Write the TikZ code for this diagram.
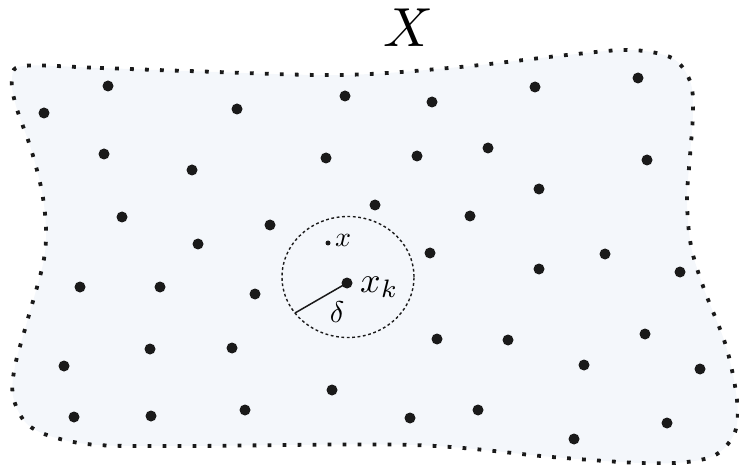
\documentclass[tikz,border=0pt]{standalone}
\usepackage{graphicx}
\usetikzlibrary{shapes.geometric}
\definecolor{regionfill}{HTML}{F4F7FB}
\definecolor{dotcol}{HTML}{1A1A1A}
\tikzset{
  pt/.style={circle,fill=dotcol,inner sep=0pt,minimum size=11pt},
  smallpt/.style={circle,fill=dotcol,inner sep=0pt,minimum size=5pt},
  border/.style={line width=3.8pt,dash pattern=on 3.8pt off 11.2pt,draw=dotcol,fill=regionfill},
  ball/.style={line width=1.4pt,dash pattern=on 2.8pt off 2.6pt,draw=dotcol}
}
\begin{document}
\begin{tikzpicture}[x=1pt,y=-1pt]
\useasboundingbox (0,0) rectangle (739,465);
\draw[border] plot[smooth cycle,tension=0.55] coordinates {
 (23,66) (100,68) (188,71) (340,75) (460,67) (567,55) (630,50) (672,58)
 (690,81) (693,111) (690,156) (687,200) (691,246) (704,289) (726,346)
 (737,400) (735,432) (717,454) (687,462) (640,463) (552,457) (413,445)
 (188,446) (98,445) (53,437) (26,423) (13,396) (15,366) (27,322)
 (43,264) (46,230) (42,192) (31,149) (16,106) (12,80)};
\node[inner sep=0] (Xlab) at (408,28) {\scalebox{5.5}{$X$}};
% sample points
\foreach \n/\x/\y in {
 a1/44/113, a2/108/86, a3/237/109, a4/345/96, a5/432/102, a6/535/87, a7/638/78,
 b1/104/154, b2/192/170, b3/326/158, b4/417/156, b5/488/148, b6/647/160,
 c1/122/217, c2/198/244, c3/270/225, c4/375/205, c5/470/216, c6/539/189,
 d1/80/287, d2/160/287, d3/255/294, d4/430/253, d5/539/269, d6/605/254, d7/680/272,
 e1/64/366, e2/150/349, e3/232/348, e4/437/339, e5/508/340, e6/584/365, e7/645/334, e8/700/369,
 f1/74/417, f2/151/416, f3/245/410, f4/332/390, f5/410/418, f6/478/410, f7/574/439, f8/667/423}
 \node[pt] (\n) at (\x,\y) {};
% delta ball
\node[ball,ellipse,minimum width=132pt,minimum height=121pt,inner sep=0] (ballnode) at (348,277) {};
\node[pt] (xk) at (347,283) {};
\node[smallpt] (xpt) at (328,243) {};
\node[inner sep=0,anchor=west] (xlab) at (335,240) {\scalebox{2.8}{$x$}};
\node[inner sep=0,anchor=west] (xklab) at (360,287) {\scalebox{3.6}{$x_k$}};
\coordinate (dend) at (295,313);
\draw[line width=1.5pt,draw=dotcol] (xk.center) -- (dend);
\node[inner sep=0] (dlab) at (337,312) {\scalebox{3}{$\delta$}};
\end{tikzpicture}
\end{document}
